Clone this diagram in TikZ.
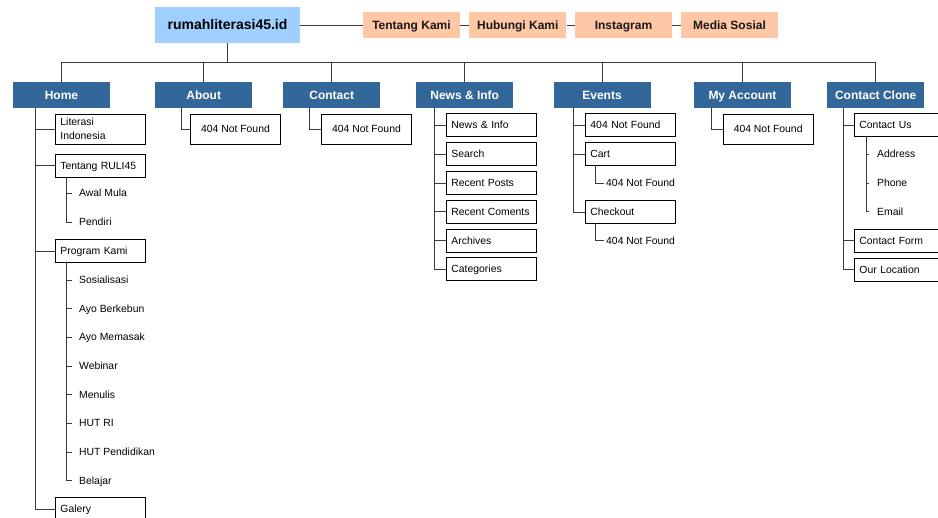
\documentclass[tikz,border=0pt]{standalone}
\usepackage{fontspec}
\setmainfont{Liberation Sans}
\definecolor{rootblue}{HTML}{9FCFFF}
\definecolor{peach}{HTML}{FFC7A6}
\definecolor{navy}{HTML}{336699}
\definecolor{linec}{HTML}{3A3A3A}
\begin{document}
\begin{tikzpicture}[x=1pt,y=-1pt,
  rootbox/.style={fill=rootblue, minimum width=145pt, minimum height=36pt, inner sep=0pt, text height=13pt, text depth=3pt, font=\fontsize{14}{16}\selectfont\bfseries},
  topbox/.style={fill=peach, minimum width=97pt, minimum height=26pt, inner sep=0pt, text height=11.1pt, text depth=2.5pt, text=black!90, font=\fontsize{12}{14}\selectfont\bfseries},
  secbox/.style={fill=navy, text=white, minimum width=97pt, minimum height=26pt, inner sep=0pt, text height=11.1pt, text depth=2.5pt, font=\fontsize{12}{14}\selectfont\bfseries},
  leafbase/.style={draw=black, line width=0.9pt, anchor=west, text width=80pt, inner xsep=5pt, inner ysep=0pt, minimum height=23pt, align=left, font=\fontsize{10.4}{14}\selectfont},
  leafbox/.style={leafbase, text height=9.95pt, text depth=2.5pt},
  nfbox/.style={draw=black, line width=0.9pt, anchor=west, minimum width=90pt, minimum height=30pt, inner sep=0pt, text height=9.95pt, text depth=2.5pt, font=\fontsize{10.4}{14}\selectfont},
  item/.style={anchor=west, inner ysep=0pt, text height=9.95pt, text depth=2.5pt, font=\fontsize{10.4}{14}\selectfont},
  conn/.style={draw=linec, line width=0.9pt}
]
\useasboundingbox (0,0) rectangle (938,518);

% root and top bar
\node[rootbox] (root) at (227.5,25) {rumahliterasi45.id};
\node[topbox] (tk) at (411.5,25) {Tentang Kami};
\node[topbox] (hk) at (517.8,25) {Hubungi Kami};
\node[topbox] (ig) at (623.5,25) {Instagram};
\node[topbox] (ms) at (729.5,25) {Media Sosial};
\draw[conn] (root.east) -- (tk.west);
\draw[conn] (tk.east) -- (hk.west);
\draw[conn] (hk.east) -- (ig.west);
\draw[conn] (ig.east) -- (ms.west);

% sections
\node[secbox] (home) at (61.5,95.5) {Home};
\node[secbox] (about) at (203.7,95.5) {About};
\node[secbox] (contact) at (331.7,95.5) {Contact};
\node[secbox] (news) at (464.7,95.5) {News \& Info};
\node[secbox] (events) at (602,95.5) {Events};
\node[secbox] (acct) at (742.5,95.5) {My Account};
\node[secbox] (cclone) at (875.7,95.5) {Contact Clone};

\coordinate (rootB) at (227.5,62);
\coordinate (busL) at (61.5,62);
\coordinate (busR) at (875.7,62);
\draw[conn] (root.south) -- (rootB);
\draw[conn] (home.north) -- (busL) -- (busR) -- (cclone.north);
\foreach \n in {about,contact,news,events,acct} {
  \draw[conn] (\n.north) -- (\n.north |- busL);
}

% Home
\node[leafbase, minimum height=30pt] (lit) at (55,129) {Literasi\\Indonesia};
\node[leafbox] (tentang) at (55,165.5) {Tentang RULI45};
\node[leafbox] (program) at (55,251) {Program Kami};
\node[leafbox] (galery) at (55,509) {Galery};
\coordinate (homeT) at (35,108.5);
\foreach \n in {lit,tentang,program,galery} {
  \draw[conn] (homeT) |- (\n.west);
}
\node[item, inner xsep=7pt] (awal) at (72,193) {Awal Mula};
\node[item, inner xsep=7pt] (pendiri) at (72,222) {Pendiri};
\coordinate (tentT) at (66,177);
\foreach \n in {awal,pendiri} {
  \draw[conn] (tentT) |- (\n.west);
}
\node[item, inner xsep=7pt] (sos) at (72,280) {Sosialisasi};
\node[item, inner xsep=7pt] (kebun) at (72,308.5) {Ayo Berkebun};
\node[item, inner xsep=7pt] (masak) at (72,337) {Ayo Memasak};
\node[item, inner xsep=7pt] (web) at (72,366) {Webinar};
\node[item, inner xsep=7pt] (tulis) at (72,394.5) {Menulis};
\node[item, inner xsep=7pt] (hutri) at (72,423) {HUT RI};
\node[item, inner xsep=7pt] (hutp) at (72,452) {HUT Pendidikan};
\node[item, inner xsep=7pt] (belajar) at (72,480.5) {Belajar};
\coordinate (progT) at (66,262.5);
\foreach \n in {sos,kebun,masak,web,tulis,hutri,hutp,belajar} {
  \draw[conn] (progT) |- (\n.west);
}

% About, Contact, My Account
\node[nfbox] (about404) at (190,129) {404 Not Found};
\draw[conn] (181,108.5) coordinate (aboutT) |- (about404.west);
\node[nfbox] (contact404) at (321,129) {404 Not Found};
\draw[conn] (309.5,108.5) coordinate (contactT) |- (contact404.west);
\node[nfbox] (acct404) at (722.7,129) {404 Not Found};
\draw[conn] (711.7,108.5) coordinate (acctT) |- (acct404.west);

% News & Info
\node[leafbox] (ni) at (446,125) {News \& Info};
\node[leafbox] (search) at (446,154) {Search};
\node[leafbox] (rposts) at (446,183) {Recent Posts};
\node[leafbox] (rcom) at (446,211.5) {Recent Coments};
\node[leafbox] (arch) at (446,240.5) {Archives};
\node[leafbox] (cat) at (446,269) {Categories};
\coordinate (newsT) at (434.7,108.5);
\foreach \n in {ni,search,rposts,rcom,arch,cat} {
  \draw[conn] (newsT) |- (\n.west);
}

% Events
\node[leafbox] (ev404) at (585,125) {404 Not Found};
\node[leafbox] (cart) at (585,154) {Cart};
\node[leafbox] (checkout) at (585,212) {Checkout};
\coordinate (eventsT) at (573.7,108.5);
\foreach \n in {ev404,cart,checkout} {
  \draw[conn] (eventsT) |- (\n.west);
}
\node[item, inner xsep=2pt] (cart404) at (604,183) {404 Not Found};
\node[item, inner xsep=2pt] (chk404) at (604,240.5) {404 Not Found};
\coordinate (cartT) at (595.7,165.5);
\coordinate (chkT) at (595.7,223.5);
\draw[conn] (cartT) |- (cart404.west);
\draw[conn] (chkT) |- (chk404.west);

% Contact Clone
\node[leafbox] (cus) at (854,125) {Contact Us};
\node[leafbox] (cform) at (854,240.5) {Contact Form};
\node[leafbox] (cloc) at (854,269.5) {Our Location};
\coordinate (ccT) at (843.3,108.5);
\foreach \n in {cus,cform,cloc} {
  \draw[conn] (ccT) |- (\n.west);
}
\node[item, inner xsep=8pt] (addr) at (869,154) {Address};
\node[item, inner xsep=8pt] (phone) at (869,183) {Phone};
\node[item, inner xsep=8pt] (email) at (869,211.5) {Email};
\coordinate (cusT) at (866,136.5);
\foreach \n in {addr,phone,email} {
  \draw[conn] (cusT) |- (\n.west);
}
\end{tikzpicture}
\end{document}
